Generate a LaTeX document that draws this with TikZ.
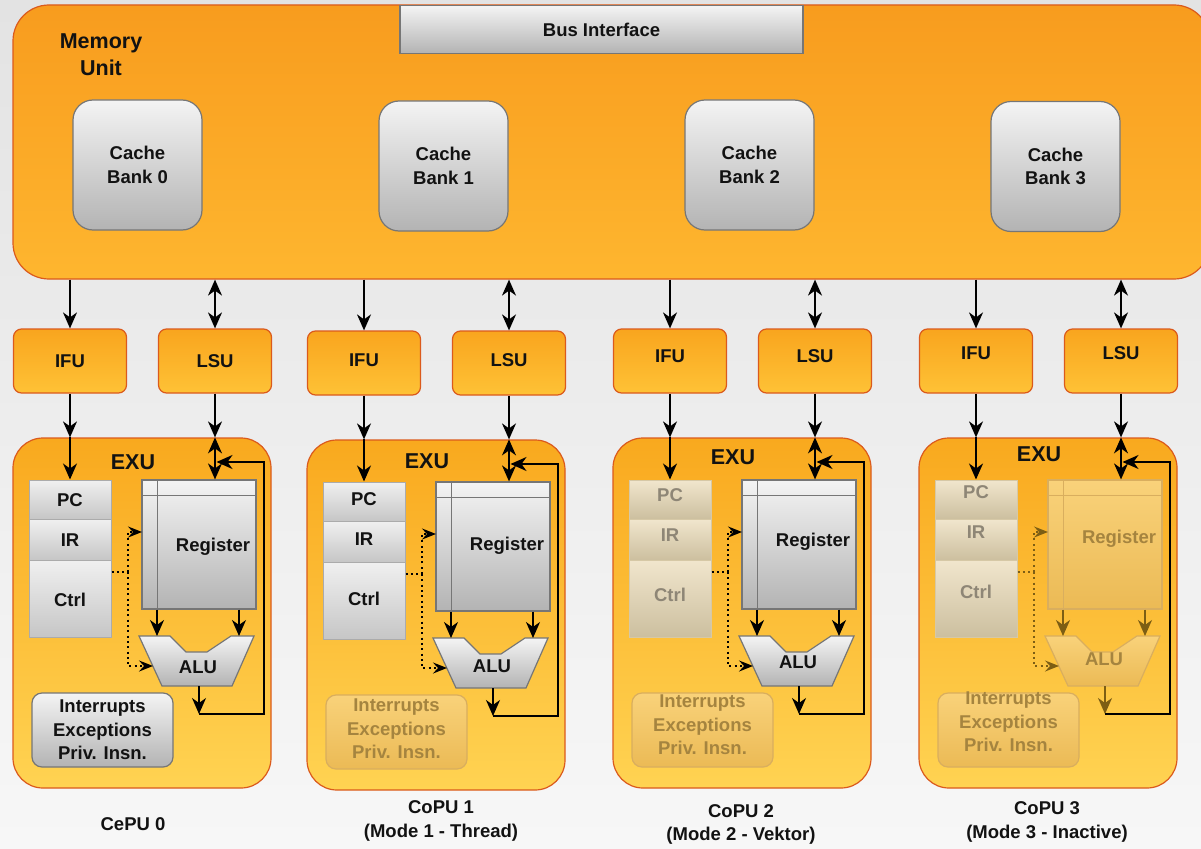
\documentclass[tikz,border=0pt]{standalone}
\usepackage{fontspec}
\setmainfont{Liberation Sans}
\usetikzlibrary{arrows.meta}

% page and unit colours
\definecolor{bgtop}{HTML}{E3E3E3}
\definecolor{bgbot}{HTML}{F7F7F7}
\definecolor{memtop}{HTML}{F89C1E}
\definecolor{membot}{HTML}{FEB62F}
\definecolor{rimred}{HTML}{DB5A1C}
\definecolor{unittop}{HTML}{F9A51E}
\definecolor{unitbot}{HTML}{FEC236}
\definecolor{exutop}{HTML}{F9A91E}
\definecolor{exubot}{HTML}{FFD352}
% grey parts
\definecolor{gtop}{HTML}{F4F4F4}
\definecolor{gbot}{HTML}{B3B3B3}
\definecolor{grim}{HTML}{767676}
\definecolor{ptop}{HTML}{F0F0F0}
\definecolor{pbot}{HTML}{C6C6C6}
\definecolor{prim}{HTML}{ABABAB}
% parts that are switched off in a mode
\definecolor{tantop}{HTML}{F1E6CD}
\definecolor{tanbot}{HTML}{CCBF9F}
\definecolor{tanrim}{HTML}{D6C8A6}
\definecolor{tantxt}{HTML}{8E8676}
\definecolor{dimtop}{HTML}{F9D27A}
\definecolor{dimbot}{HTML}{EBBA55}
\definecolor{dimrim}{HTML}{D9AE5E}
\definecolor{dimtxt}{HTML}{A5843F}
\definecolor{dimline}{HTML}{7D5E14}

\tikzset{
  tipbig/.tip={Stealth[length=16pt,width=14pt,inset=5pt]},
  tipdot/.tip={Stealth[length=14pt,width=11pt,inset=5pt]},
  arr/.style={line width=1.6pt, -tipbig},
  darr/.style={line width=1.6pt, tipbig-tipbig},
  dotln/.style={line width=2pt, dash pattern=on 2pt off 3.3pt},
  dotarr/.style={dotln, -tipdot},
  lbl/.style={font=\fontsize{18.5}{23.5}\selectfont\bfseries, align=center, inner sep=0pt, text=black!93},
  biglbl/.style={font=\fontsize{21.5}{27}\selectfont\bfseries, align=center, inner sep=0pt, text=black!93},
  memory/.style={draw=rimred, line width=1.2pt, top color=memtop, bottom color=membot, rounded corners=36pt, inner sep=0pt},
  unitbox/.style={draw=rimred, line width=1.2pt, top color=unittop, bottom color=unitbot, rounded corners=8pt, minimum width=113pt, minimum height=64pt, inner sep=0pt},
  exubox/.style={draw=rimred, line width=1.2pt, top color=exutop, bottom color=exubot, rounded corners=30pt, minimum width=258pt, minimum height=350pt, inner sep=0pt},
  gbox/.style={draw=grim, line width=1.2pt, top color=gtop, bottom color=gbot, inner sep=0pt},
  cachebox/.style={gbox, rounded corners=20pt, minimum width=129pt, minimum height=130pt},
  pcbox/.style={draw=prim, line width=1pt, top color=ptop, bottom color=pbot, inner sep=0pt},
  tanbox/.style={draw=tanrim, line width=1pt, top color=tantop, bottom color=tanbot, inner sep=0pt},
  dimbox/.style={draw=dimrim, line width=1.2pt, top color=dimtop, bottom color=dimbot, inner sep=0pt},
  % looks of the parts of one CPU, per operating mode
  live/.style={
    pcs/.style={pcbox}, pct/.style={text=black!93},
    regs/.style={gbox}, regl/.style={draw=grim, line width=1pt}, regt/.style={text=black!93},
    irqs/.style={gbox}, irqt/.style={text=black!93},
    innerwire/.style={color=black}},
  thread/.style={live, irqs/.style={dimbox}, irqt/.style={text=dimtxt}},
  vektor/.style={thread, pcs/.style={tanbox}, pct/.style={text=tantxt}},
  inactive/.style={vektor, regs/.style={dimbox}, regl/.style={draw=dimrim, line width=1pt},
    regt/.style={text=dimtxt}, innerwire/.style={color=dimline}},
  live
}

% one CPU column: IFU, LSU and EXU
% #1 index, #2/#3 offset, #4 mode style, #5 label lift
\newcommand{\cpucolumn}[5]{%
  \begin{scope}[shift={(#2,#3)}, #4]
    \node[unitbox] (ifu#1) at (70,361) {};
    \node[unitbox] (lsu#1) at (215,361) {};
    \node[lbl, yshift=#5pt] (ifulbl#1) at (70,361) {IFU};
    \node[lbl, yshift=#5pt] (lsulbl#1) at (215,361) {LSU};

    \node[exubox] (exu#1) at (142,613) {};
    \node[biglbl, yshift=#5pt] (exulbl#1) at (133,462) {EXU};

    \node[pcs, minimum width=82pt, minimum height=39pt] (pc#1) at (70,499.5) {};
    \node[pcs, minimum width=82pt, minimum height=41pt] (ir#1) at (70,539.5) {};
    \node[pcs, minimum width=82pt, minimum height=77pt] (ctrl#1) at (70,598.5) {};
    \node[lbl, pct, yshift=#5pt] (pclbl#1) at (70,500) {PC};
    \node[lbl, pct, yshift=#5pt] (irlbl#1) at (70,540) {IR};
    \node[lbl, pct, yshift=#5pt] (ctrllbl#1) at (70,600) {Ctrl};

    \node[regs, minimum width=114pt, minimum height=129pt] (reg#1) at (199,544.5) {};
    \draw[regl] ([xshift=16pt]reg#1.north west) -- ([xshift=16pt]reg#1.south west);
    \draw[regl] ([yshift=-16pt]reg#1.north west) -- ([yshift=-16pt]reg#1.north east);
    \node[lbl, regt, yshift=#5pt] (reglbl#1) at (213,547) {Register};

    \draw[regs] (139,636) -- (170,636) -- (186,652) -- (207,652) -- (231,636)
      -- (254,636) -- (232,686) -- (162,686) -- cycle;
    \node[lbl, regt, yshift=#5pt] (alu#1) at (198,667) {ALU};

    \node[irqs, rounded corners=10pt, minimum width=141pt, minimum height=74pt] (irq#1) at (102.5,730) {};
    \node[lbl, irqt, yshift=#5pt] (irqlbl#1) at (102.5,730) {Interrupts\\Exceptions\\Priv. Insn.};

    \coordinate (alua#1) at (157,636);
    \coordinate (alub#1) at (239,636);
    \coordinate (aluo#1) at (199,686);
    \coordinate (fb#1) at (199,714);
    \coordinate (fbtop#1) at (264,462);
    \coordinate (dj#1) at (128,572);
    \coordinate (dreg#1) at (142,532);
    \coordinate (dalu#1) at (153,666);

    % memory side
    \draw[arr] (ifu#1.north |- mem.south) -- (ifu#1.north);
    \draw[darr] (lsu#1.north |- mem.south) -- (lsu#1.north);
    % into the EXU
    \draw[arr] (ifu#1.south) -- (ifu#1.south |- exu#1.north);
    \draw[arr] (ifu#1.south |- exu#1.north) -- (pc#1.north);
    \draw[arr] (lsu#1.south) -- (lsu#1.south |- exu#1.north);
    \draw[darr] (lsu#1.south |- exu#1.north) -- (lsu#1.south |- reg#1.north);
    % data path
    \draw[arr, innerwire] (alua#1 |- reg#1.south) -- (alua#1);
    \draw[arr, innerwire] (alub#1 |- reg#1.south) -- (alub#1);
    \draw[arr, innerwire] (aluo#1) -- (fb#1);
    \draw[arr, shorten >=1.5pt] (fb#1) -| (fbtop#1) -- (lsu#1.south |- fbtop#1);
    % control
    \draw[dotln, innerwire] (ctrl#1.east |- dj#1) -- (dj#1);
    \draw[dotarr, innerwire] (dj#1) |- (dreg#1);
    \draw[dotarr, innerwire] (dj#1) |- (dalu#1);
  \end{scope}}

\begin{document}
\begin{tikzpicture}[x=1pt, y=-1pt]
  \useasboundingbox (0,0) rectangle (1201,848);
  \fill[top color=bgtop, bottom color=bgbot] (0,0) rectangle (1201,848);

  % shared memory unit
  \node[memory, minimum width=1197pt, minimum height=274pt] (mem) at (611.5,142) {};
  \node[gbox, lbl, minimum width=403pt, minimum height=48pt] (bus) at (601.5,29.5) {Bus Interface};
  \node[biglbl] (memlbl) at (101,54.5) {Memory\\Unit};
  \node[cachebox, lbl] (cache0) at (137.5,165) {Cache\\Bank 0};
  \node[cachebox, lbl] (cache1) at (443.5,166) {Cache\\Bank 1};
  \node[cachebox, lbl] (cache2) at (749.5,165) {Cache\\Bank 2};
  \node[cachebox, lbl] (cache3) at (1055.5,166.5) {Cache\\Bank 3};

  % the four CPUs
  \cpucolumn{0}{0}{0}{live}{0}
  \cpucolumn{1}{294}{2}{thread}{3}
  \cpucolumn{2}{600}{0}{vektor}{5}
  \cpucolumn{3}{906}{0}{inactive}{8}

  % captions
  \node[lbl] (cepu0) at (133,824) {CePU 0};
  \node[lbl] (copu1) at (441,821) {CoPU 1\\(Mode 1 - Thread)};
  \node[lbl] (copu2) at (741,824.5) {CoPU 2\\(Mode 2 - Vektor)};
  \node[lbl] (copu3) at (1047,822) {CoPU 3\\(Mode 3 - Inactive)};
\end{tikzpicture}
\end{document}
